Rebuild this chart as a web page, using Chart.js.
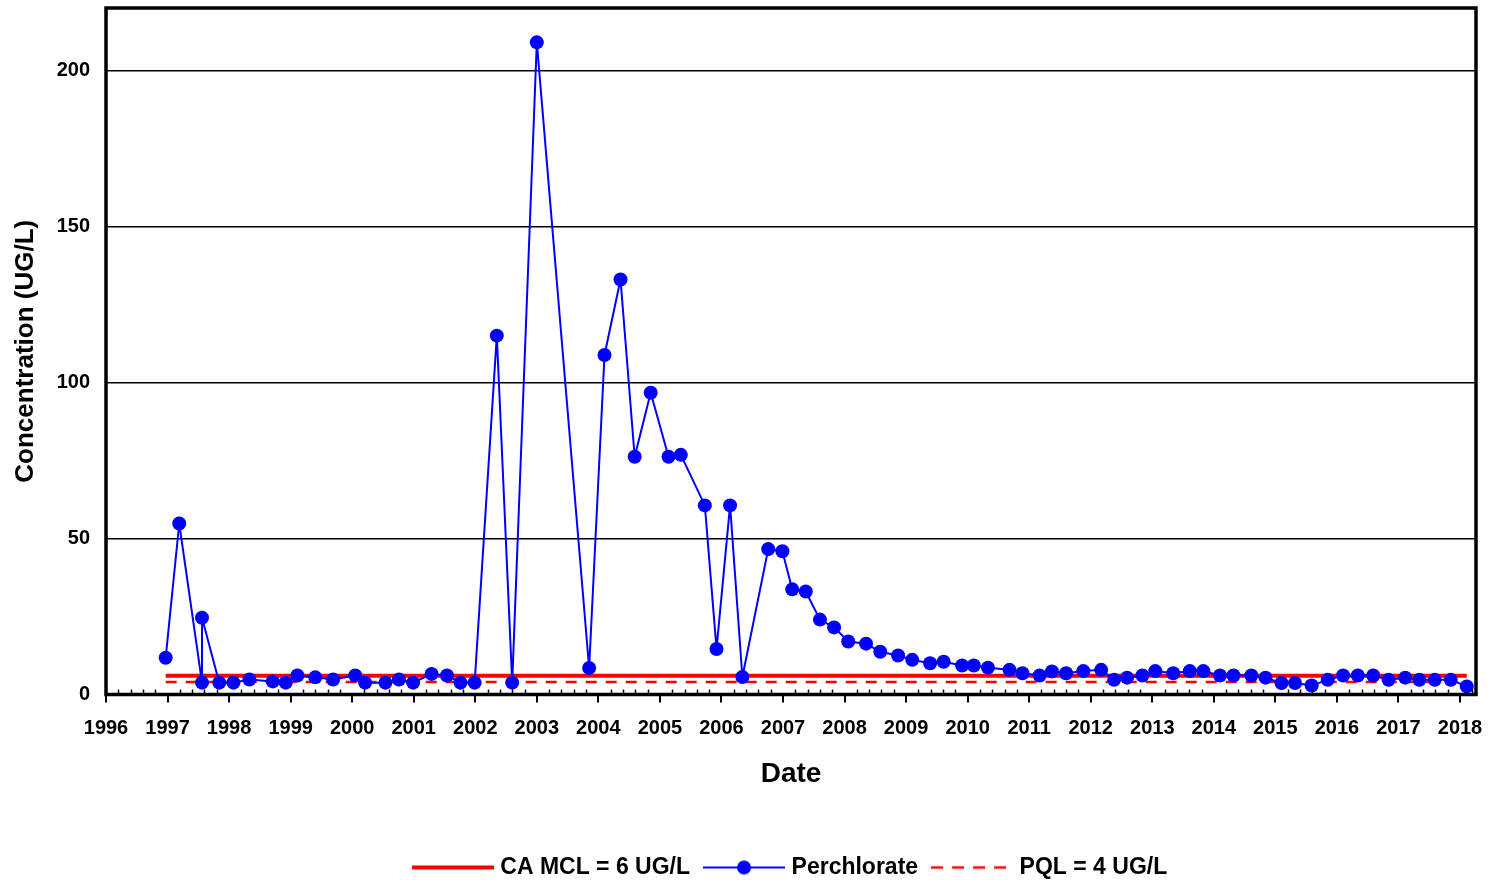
<!DOCTYPE html>
<html><head><meta charset="utf-8">
<script src="https://cdn.jsdelivr.net/npm/chart.js@4.4.1/dist/chart.umd.min.js"></script>
<style>html,body{margin:0;padding:0;background:#fff;}#wrap{width:1490px;height:880px;}</style>
</head><body><div id="wrap"><canvas id="c" width="1490" height="880"></canvas></div>
<script>
// ---- data ----
const dates = [1996.97, 1997.19, 1997.56, 1997.56, 1997.84, 1998.07, 1998.33, 1998.71, 1998.92, 1999.11,
  1999.40, 1999.69, 2000.05, 2000.21, 2000.54, 2000.76, 2000.99, 2001.29, 2001.54, 2001.76,
  2001.99, 2002.35, 2002.60, 2003.00, 2003.85, 2004.10, 2004.36, 2004.59, 2004.85, 2005.14,
  2005.34, 2005.73, 2005.92, 2006.14, 2006.34, 2006.76, 2006.99, 2007.15, 2007.37, 2007.60,
  2007.83, 2008.06, 2008.35, 2008.58, 2008.87, 2009.10, 2009.39, 2009.61, 2009.91, 2010.10,
  2010.33, 2010.68, 2010.89, 2011.17, 2011.37, 2011.60, 2011.88, 2012.17, 2012.38, 2012.59,
  2012.84, 2013.05, 2013.34, 2013.61, 2013.83, 2014.10, 2014.32, 2014.61, 2014.84, 2015.10,
  2015.32, 2015.59, 2015.85, 2016.10, 2016.34, 2016.59, 2016.84, 2017.11, 2017.34, 2017.59,
  2017.85, 2018.11];
const perchlorate = [11.8, 54.8, 3.8, 24.6, 3.8, 3.8, 4.8, 4.2, 3.8, 6.1,
  5.5, 4.8, 6.1, 3.8, 3.8, 4.8, 3.8, 6.6, 6.1, 3.8,
  3.8, 115, 3.8, 209, 8.5, 108.8, 133, 76.2, 96.7, 76.2,
  76.8, 60.6, 14.6, 60.6, 5.6, 46.6, 45.9, 33.7, 33.0, 24.0,
  21.5, 17.0, 16.3, 13.7, 12.5, 11.1, 10.0, 10.5, 9.3, 9.3,
  8.6, 7.9, 6.8, 6.1, 7.4, 6.8, 7.5, 7.9, 4.7, 5.4,
  6.1, 7.5, 6.8, 7.5, 7.5, 6.1, 6.1, 6.1, 5.4, 3.7,
  3.7, 2.9, 4.7, 6.1, 6.1, 6.1, 4.7, 5.4, 4.7, 4.7,
  4.7, 2.6];
const mclValue = 6;
const pqlValue = 4;
const seriesNames = ['CA MCL = 6 UG/L', 'Perchlorate', 'PQL = 4 UG/L'];
const xRange = [1996, 2018.26];
const yRange = [0, 220];
const yStep = 50;
const xStep = 1;
const xMinorStep = 0.2;
const xTitle = 'Date';
const yTitle = 'Concentration (UG/L)';

// ---- styling ----
const FONT = '"Liberation Sans", Arial, Helvetica, sans-serif';
const BLUE = '#0000FF', RED = '#FF0000';

function legendSample(kind) {
  const c = document.createElement('canvas');
  c.width = 82; c.height = 18;
  const g = c.getContext('2d');
  const y = 9;
  g.beginPath();
  if (kind === 'mcl') { g.strokeStyle = RED; g.lineWidth = 4; g.moveTo(0, y); g.lineTo(82, y); g.stroke(); }
  if (kind === 'pql') { g.strokeStyle = RED; g.lineWidth = 2.5; g.setLineDash([12, 9]); g.moveTo(0, y); g.lineTo(82, y); g.stroke(); }
  if (kind === 'per') {
    g.strokeStyle = BLUE; g.lineWidth = 2; g.moveTo(0, y); g.lineTo(82, y); g.stroke();
    g.beginPath(); g.fillStyle = BLUE; g.arc(41, y, 7, 0, Math.PI * 2); g.fill();
  }
  return c;
}
const samples = [legendSample('mcl'), legendSample('per'), legendSample('pql')];

const frame = {
  id: 'frame',
  afterLayout(chart) {
    const lg = chart.legend;
    if (lg) { lg.left += 54; lg.right += 54; }
  },
  afterDatasetsDraw(chart) {
    const {ctx, chartArea: a, scales: {x}} = chart;
    ctx.save();
    ctx.strokeStyle = '#000'; ctx.lineWidth = 1.5;
    for (let v = xRange[0] + xMinorStep; v < xRange[1]; v += xMinorStep) {
      if (Math.abs(v - Math.round(v)) < 1e-6) continue;
      const px = Math.round(x.getPixelForValue(v)) + 0.5;
      ctx.beginPath(); ctx.moveTo(px, a.bottom); ctx.lineTo(px, a.bottom - 5); ctx.stroke();
    }
    ctx.lineWidth = 3.5;
    ctx.strokeRect(a.left, a.top, a.right - a.left, a.bottom - a.top);
    ctx.restore();
  }
};

const n = dates.length;
new Chart(document.getElementById('c'), {
  type: 'scatter',
  data: {
    datasets: [
      { label: seriesNames[0], data: [{x: dates[0], y: mclValue}, {x: dates[n - 1], y: mclValue}],
        showLine: true, borderColor: RED, borderWidth: 4, pointRadius: 0, order: 2 },
      { label: seriesNames[1], data: dates.map((d, i) => ({x: d, y: perchlorate[i]})),
        showLine: true, borderColor: BLUE, borderWidth: 2, backgroundColor: BLUE,
        pointRadius: 7, pointBorderWidth: 0, pointBackgroundColor: BLUE, order: 1 },
      { label: seriesNames[2], data: [{x: dates[0], y: pqlValue}, {x: dates[n - 1], y: pqlValue}],
        showLine: true, borderColor: RED, borderWidth: 2.5, borderDash: [11, 9], pointRadius: 0, order: 3 }
    ]
  },
  options: {
    responsive: false,
    animation: false,
    devicePixelRatio: 1,
    layout: { padding: { left: 0, right: 14, top: 8, bottom: -9 } },
    plugins: {
      tooltip: { enabled: false },
      legend: {
        position: 'bottom',
        labels: {
          usePointStyle: true,
          pointStyleWidth: 72,
          padding: 18,
          color: '#000',
          font: { family: FONT, size: 23, weight: 'bold' },
          generateLabels: () => seriesNames.map((t, i) => ({
            text: t, pointStyle: samples[i], datasetIndex: i, fontColor: '#000',
            fillStyle: 'transparent', strokeStyle: 'transparent', lineWidth: 0, hidden: false
          }))
        }
      }
    },
    scales: {
      x: {
        type: 'linear', min: xRange[0], max: xRange[1],
        afterFit: (s) => { s.height = 143.5; s.paddingLeft = 0; s.paddingRight = 0; },
        ticks: { stepSize: xStep, includeBounds: false, color: '#000', padding: 14,
          font: { family: FONT, size: 20, weight: 'bold' }, maxRotation: 0, autoSkip: false,
          callback: (v) => String(v) },
        grid: { drawOnChartArea: false, color: '#000', lineWidth: 2, tickLength: 8 },
        border: { display: false },
        title: { display: true, text: xTitle, color: '#000',
          font: { family: FONT, size: 28, weight: 'bold' }, padding: { top: 0, bottom: 47 } }
      },
      y: {
        type: 'linear', min: yRange[0], max: yRange[1],
        afterFit: (s) => { s.width = 106; s.paddingTop = 0; s.paddingBottom = 0; },
        ticks: { stepSize: yStep, includeBounds: false, color: '#000', padding: 16,
          font: { family: FONT, size: 20, weight: 'bold' } },
        grid: { color: '#000', lineWidth: 1.5, drawTicks: false },
        border: { display: false },
        title: { display: true, text: yTitle, color: '#000',
          font: { family: FONT, size: 26, weight: 'bold' }, padding: { top: 10, bottom: 0 } }
      }
    }
  },
  plugins: [frame]
});
</script>
</body></html>
